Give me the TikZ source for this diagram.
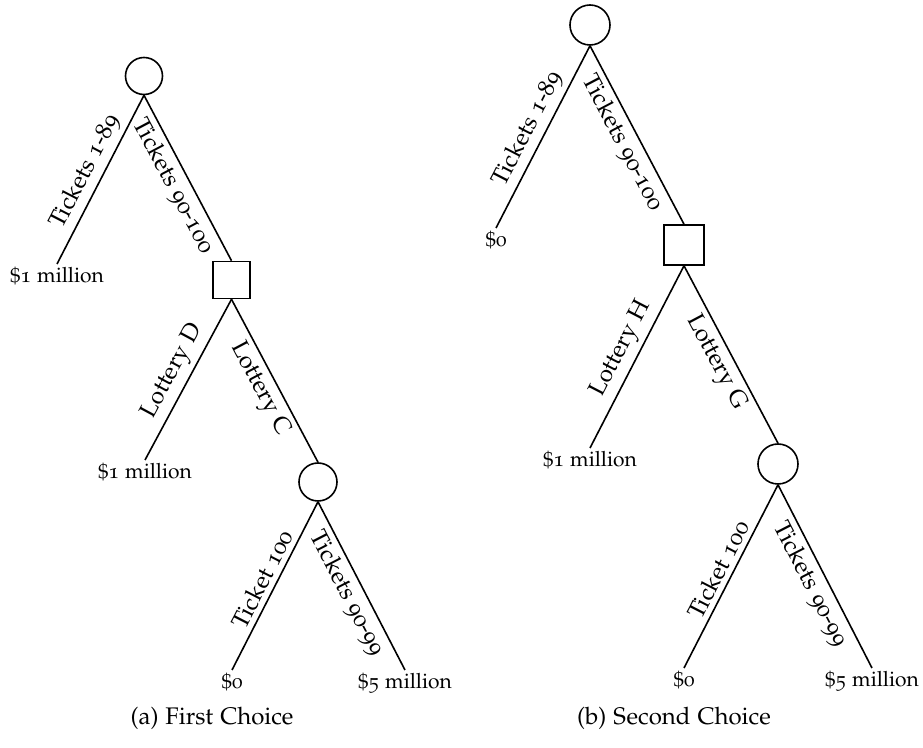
\documentclass[tikz,border=0pt]{standalone}
\usepackage[T1]{fontenc}
\usepackage[osf]{mathpazo}
\begin{document}
\begin{tikzpicture}[x=0.5pt,y=-0.5pt,line width=0.8pt,
  chance/.style={draw,circle,inner sep=0pt,minimum size=#1},
  decision/.style={draw,rectangle,inner sep=0pt,minimum size=#1},
  leaf/.style={anchor=north,inner sep=1.5pt,font=\fontsize{10.5}{12}\selectfont},
  lbl/.style={sloped,midway,inner sep=2.5pt,font=\fontsize{12}{14}\selectfont},
  captext/.style={font=\fontsize{12}{14}\selectfont}]
\useasboundingbox (0,0) rectangle (923,748);
% left tree
\node[chance=18.5pt] (c1) at (144,76) {};
\node[leaf] (l1) at (57,264) {\$1 million};
\node[decision=18.5pt] (s1) at (231.5,280) {};
\node[leaf] (l2) at (145,460) {\$1 million};
\node[chance=19pt] (c2) at (318,482) {};
\node[leaf] (l3) at (232,670) {\$0};
\node[leaf] (l4) at (405,670) {\$5 million};
\draw (c1.south) -- node[lbl,above]{Tickets 1-89} (l1.north);
\draw (c1.south) -- node[lbl,below]{Tickets 90-100} (s1.north);
\draw (s1.south) -- node[lbl,above]{Lottery D} (l2.north);
\draw (s1.south) -- node[lbl,below]{Lottery C} (c2.north);
\draw (c2.south) -- node[lbl,above]{Ticket 100} (l3.north);
\draw (c2.south) -- node[lbl,below]{Tickets 90-99} (l4.north);
\node[captext] (capa) at (212,719) {(a) First Choice};
% right tree
\node[chance=20pt] (c3) at (590,25) {};
\node[leaf] (l5) at (496,228) {\$0};
\node[decision=20pt] (s2) at (684,245) {};
\node[leaf] (l6) at (590,448) {\$1 million};
\node[chance=20pt] (c4) at (778,464) {};
\node[leaf] (l7) at (684,668) {\$0};
\node[leaf] (l8) at (872,668) {\$5 million};
\draw (c3.south) -- node[lbl,above]{Tickets 1-89} (l5.north);
\draw (c3.south) -- node[lbl,below]{Tickets 90-100} (s2.north);
\draw (s2.south) -- node[lbl,above]{Lottery H} (l6.north);
\draw (s2.south) -- node[lbl,below]{Lottery G} (c4.north);
\draw (c4.south) -- node[lbl,above]{Ticket 100} (l7.north);
\draw (c4.south) -- node[lbl,below]{Tickets 90-99} (l8.north);
\node[captext] (capb) at (674,719) {(b) Second Choice};
\end{tikzpicture}
\end{document}
